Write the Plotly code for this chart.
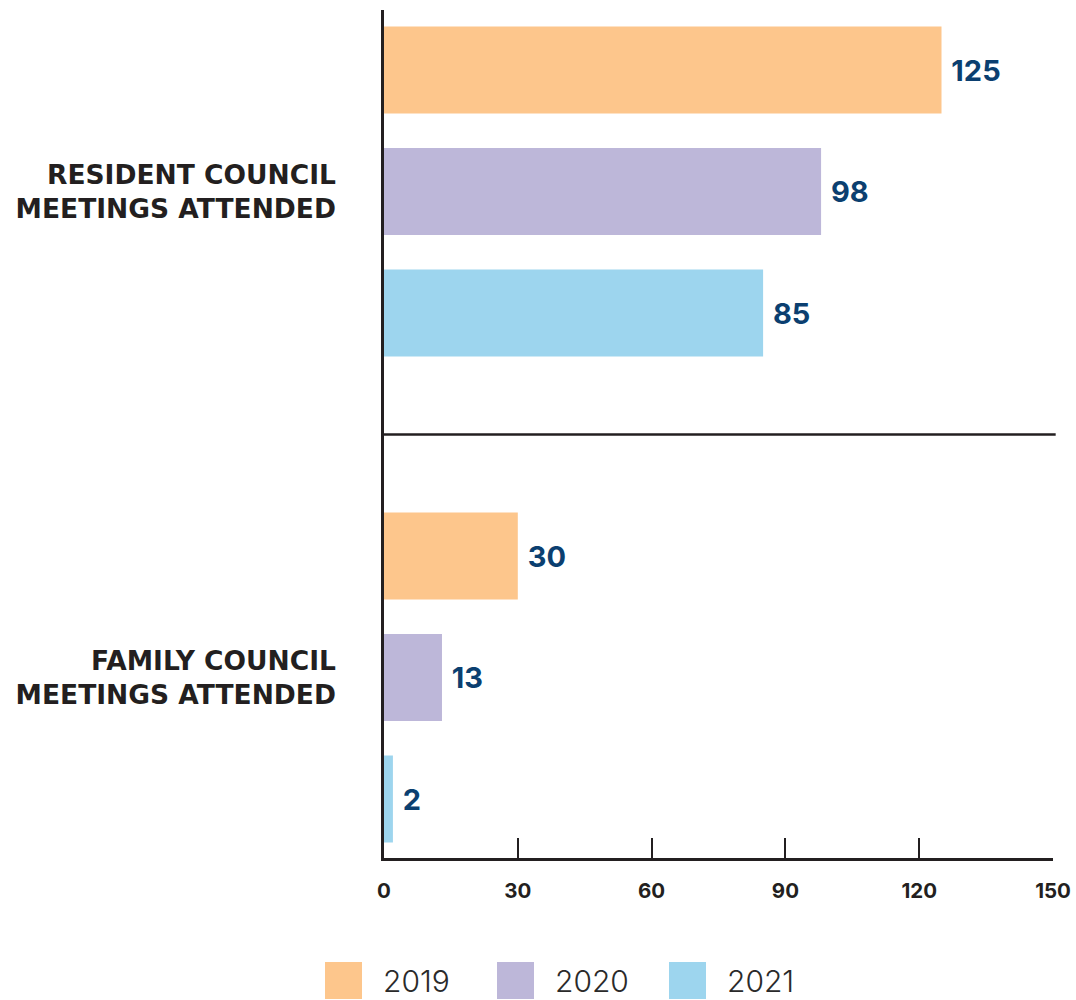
import plotly.graph_objects as go

# Data
categories = ["RESIDENT COUNCIL<br>MEETINGS ATTENDED", "FAMILY COUNCIL<br>MEETINGS ATTENDED"]
years = ["2019", "2020", "2021"]
values_2019 = [125, 30]
values_2020 = [98, 13]
values_2021 = [85, 2]
series = [values_2019, values_2020, values_2021]
colors = ["#FDC68C", "#BDB7D9", "#9DD5EE"]
x_ticks = [0, 30, 60, 90, 120, 150]

INK = "#231F20"
NAVY = "#0B3F70"

W, H = 1076, 1000
ML, MR, MT, MB = 384, 23, 10, 142

fig = go.Figure()
for year, vals, col in zip(years, series, colors):
    fig.add_trace(go.Bar(
        y=categories, x=vals, name=year, orientation="h",
        marker=dict(color=col, line=dict(width=0)),
        text=["\u00a0" + str(v) for v in vals], textposition="outside",
        textfont=dict(family="Inter", size=29, color=NAVY, weight="bold"),
        constraintext="none", cliponaxis=False, showlegend=False,
    ))

fig.update_layout(
    width=W, height=H,
    margin=dict(l=ML, r=MR, t=MT, b=MB, pad=0, autoexpand=False),
    paper_bgcolor="white", plot_bgcolor="white",
    barmode="group", bargap=0.25, bargroupgap=0.284,
    showlegend=False,
)

fig.update_xaxes(
    range=[0, 150], tickvals=x_ticks, ticktext=[str(t) for t in x_ticks],
    showgrid=False, zeroline=False, automargin=False,
    showline=True, linecolor=INK, linewidth=2.5,
    ticks="inside", ticklen=20, tickwidth=2, tickcolor=INK,
    ticklabelstandoff=13,
    tickfont=dict(family="Inter", size=20.5, color=INK, weight="bold"),
)
fig.update_yaxes(
    type="category", categoryorder="array", categoryarray=categories,
    range=[1.3714, -0.3735],
    showgrid=False, zeroline=False, automargin=False,
    showline=True, linecolor=INK, linewidth=2.5,
    ticks="", ticklabelstandoff=40,
    tickfont=dict(family="DejaVu Sans", size=26.5, color=INK, weight="bold"),
)

# divider between the two groups
fig.add_shape(type="line", xref="x domain", yref="y",
              x0=0, x1=1.004, y0=0.5, y1=0.5,
              line=dict(color=INK, width=2.5))

# legend: large swatches with year labels beneath the chart
plot_w = W - ML - MR
plot_h = H - MT - MB
sw = 37
sw_left, sw_top, step = 325, 962, 172

def px_x(p):
    return (p - ML) / plot_w

def px_y(p):
    return (H - MB - p) / plot_h

for i, (year, col) in enumerate(zip(years, colors)):
    left = sw_left + i * step
    fig.add_shape(type="rect", xref="paper", yref="paper",
                  x0=px_x(left), x1=px_x(left + sw),
                  y0=px_y(sw_top + sw), y1=px_y(sw_top),
                  fillcolor=col, line=dict(width=0), layer="above")
    fig.add_annotation(xref="paper", yref="paper",
                       x=px_x(left + sw + 19), y=px_y(sw_top + sw / 2),
                       xanchor="left", yanchor="middle", showarrow=False,
                       text=year,
                       font=dict(family="Inter", size=30, color="#2a2a2a", weight=300))

fig.write_html("out.html")
